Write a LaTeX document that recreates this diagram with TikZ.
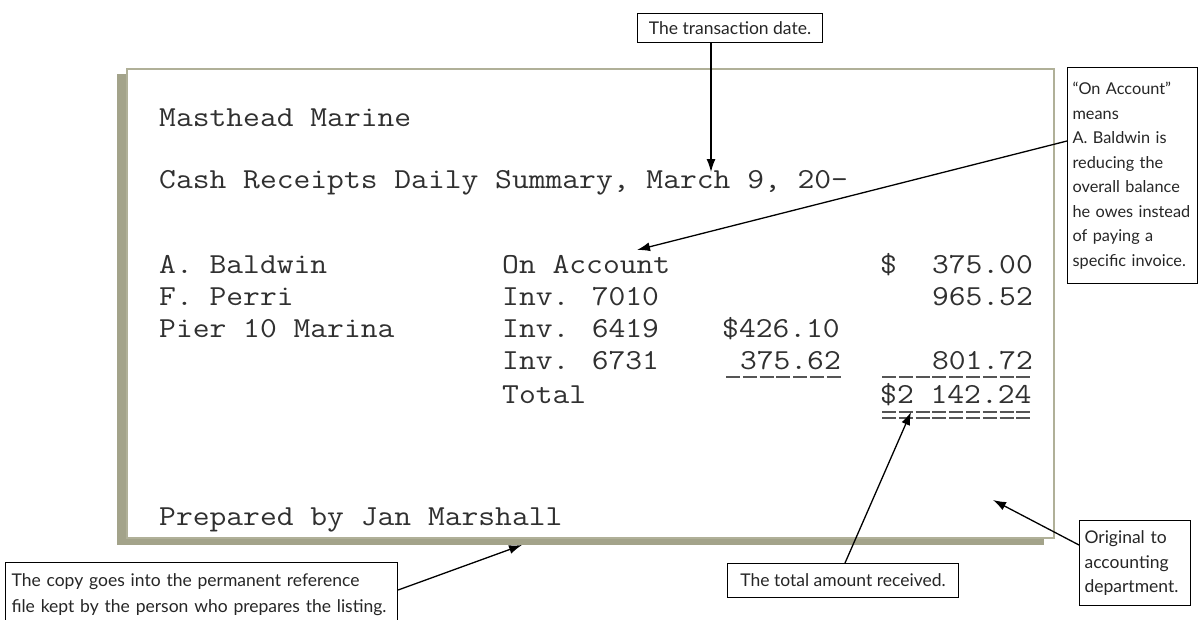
\documentclass[tikz,border=0pt]{standalone}
\usepackage{fontspec}
\setmainfont{Lato}
\usetikzlibrary{arrows.meta}
\definecolor{shadowc}{HTML}{A3A38A}
\definecolor{framec}{HTML}{B0B098}
\definecolor{monoc}{HTML}{303030}
\definecolor{rulec}{HTML}{555555}
\newcommand{\mtext}[1]{\scalebox{1.125}[1]{#1}}
\tikzset{
  mono/.style={font=\ttfamily\fontsize{29}{34}\selectfont, text=monoc, inner sep=0pt, anchor=base west},
  monoR/.style={mono, anchor=base east},
  callout/.style={draw=black, line width=1.1pt, fill=white, font=\fontsize{17.5}{24.5}\selectfont, align=left, inner xsep=6pt, inner ysep=0pt, anchor=north west, text=black!85},
  pointer/.style={draw=black, line width=1.3pt, -{Latex[length=13pt,width=9pt]}},
  uline/.style={draw=rulec, line width=1.8pt, dash pattern=on 14pt off 2.8pt},
}
\begin{document}
\begin{tikzpicture}[x=1pt,y=-1pt]
\useasboundingbox (0,0) rectangle (1199,619);
% document sheet with shadow
\fill[shadowc] (117,74) rectangle (1044,545);
\node[draw=framec, line width=1.5pt, fill=white, anchor=north west, inner sep=0pt, minimum width=927pt, minimum height=469pt] (sheet) at (126,68) {};
% document text
\node[mono] (t1) at (159,126) {\mtext{Masthead Marine}};
\node[mono] (t2) at (159,188) {\mtext{Cash Receipts Daily Summary, March 9, 20-}};
\node[mono] (r1a) at (159,273) {\mtext{A. Baldwin}};
\node[mono] (r1b) at (502,273) {\mtext{On Account}};
\node[mono] (r1d) at (880,273) {\mtext{\$}};
\node[monoR] (r1e) at (1033,273) {\mtext{375.00}};
\node[mono] (r2a) at (159,305) {\mtext{F. Perri}};
\node[mono] (r2b) at (502,305) {\mtext{Inv. 7010}};
\node[monoR] (r2e) at (1033,305) {\mtext{965.52}};
\node[mono] (r3a) at (159,337) {\mtext{Pier 10 Marina}};
\node[mono] (r3b) at (502,337) {\mtext{Inv. 6419}};
\node[mono] (r3c) at (722,337) {\mtext{\$426.10}};
\node[mono] (r4b) at (502,369) {\mtext{Inv. 6731}};
\node[monoR] (r4c) at (841,369) {\mtext{375.62}};
\node[monoR] (r4e) at (1033,369) {\mtext{801.72}};
\node[mono] (r5b) at (502,403) {\mtext{Total}};
\node[mono] (r5d) at (880,403) {\mtext{\$2 142.24}};
% underlines
\draw[uline] (726,377) -- (841,377);
\draw[uline] (882,377) -- (1032,377);
\draw[uline] (882,412) -- (1032,412);
\draw[uline] (882,418) -- (1032,418);
\node[mono] (prep) at (159,525) {\mtext{Prepared by Jan Marshall}};
% callouts
\node[callout, minimum width=185pt, minimum height=29pt, align=center, inner xsep=0pt] (cdate) at (637,13) {The transaction date.};
\node[callout, text width=120pt, minimum height=216pt, inner xsep=5pt, font=\fontsize{16.3}{24.5}\selectfont] (cacc) at (1067,67) {``On Account''\\means\\A. Baldwin is\\reducing the\\overall balance\\he owes instead\\of paying a\\specific invoice.};
\node[callout, minimum width=231pt, minimum height=34pt, align=center, inner xsep=0pt] (ctot) at (727,563) {The total amount received.};
\node[callout, text width=101pt, minimum height=85pt, inner xsep=5pt] (corig) at (1079,520) {Original to\\accounting\\department.};
\node[callout, text width=380pt, inner xsep=6pt, inner ysep=11pt, font=\fontsize{17.5}{26}\selectfont] (ccopy) at (5,562) {The copy goes into the permanent reference\\file kept by the person who prepares the listing.};
% pointer targets
\coordinate (pdate) at (711,172);
\coordinate (pacc) at (637,250);
\coordinate (ptot) at (911,412);
\coordinate (porig) at (993,500);
\coordinate (pcopy) at (522,545);
% pointers
\draw[pointer] (cdate.south -| pdate) -- (pdate);
\draw[pointer] (cacc.west |- 0,141) -- (pacc);
\draw[pointer] (845,563) -- (ptot);
\draw[pointer] (corig.west |- 0,545) -- (porig);
\draw[pointer] (ccopy.east |- 0,590) -- (pcopy);
\end{tikzpicture}
\end{document}
